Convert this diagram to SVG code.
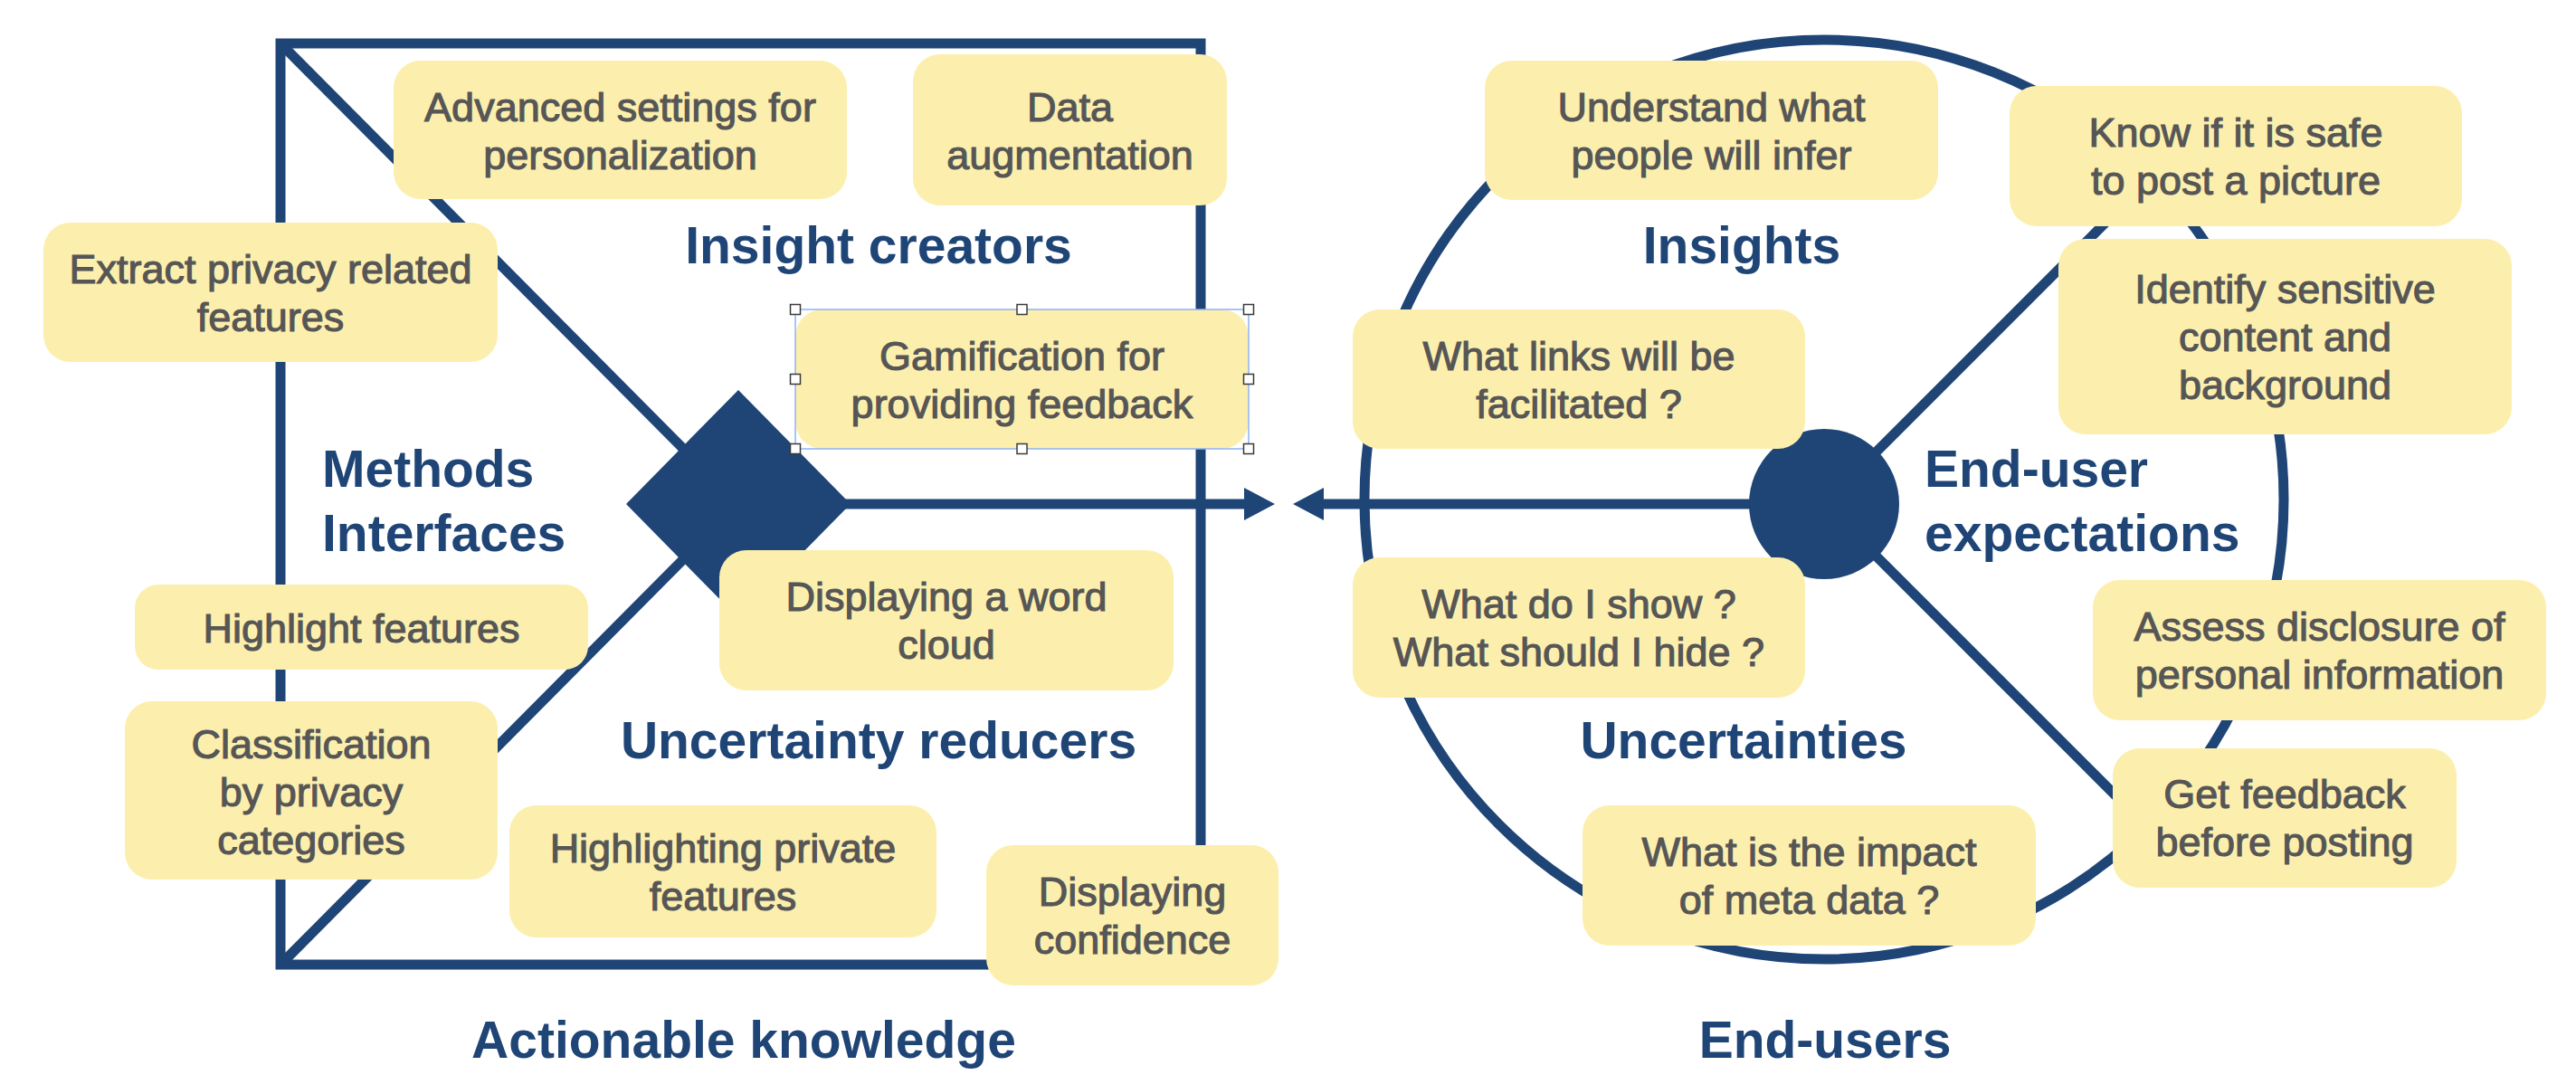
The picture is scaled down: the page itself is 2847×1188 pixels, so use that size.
<svg xmlns="http://www.w3.org/2000/svg" width="2847" height="1188" viewBox="0 0 2847 1188">
  <style>
    .frame { fill: none; stroke: #1F4577; stroke-width: 11; }
    .solid { fill: #1F4577; stroke: none; }
    .box { fill: #FCEFAD; }
    .txt { font-family: "Liberation Sans", Arial, Helvetica, sans-serif; font-size: 45px; fill: #565656; stroke: #565656; stroke-width: 1.1; text-anchor: middle; }
    .title { font-family: "Liberation Sans", Arial, Helvetica, sans-serif; font-size: 57px; font-weight: bold; fill: #1F4577; }
    .mid { text-anchor: middle; }
    .sel { fill: none; stroke: #8DB3F6; stroke-width: 1.5; }
    .handle { fill: #FFFFFF; stroke: #3A3A3A; stroke-width: 1.5; }
  </style>
  <defs>
    <marker id="head" markerUnits="userSpaceOnUse" markerWidth="36" markerHeight="38" refX="4" refY="19" orient="auto">
      <path d="M0,1 L34,19 L0,37 Z" fill="#1F4577"/>
    </marker>
  </defs>

  <rect width="2847" height="1188" fill="#FFFFFF"/>

  <!-- connectors: square frame, circle frame, diagonals and arrows -->
  <g id="connectors">
    <rect class="frame" x="310" y="48" width="1017" height="1018"/>
    <line class="frame" x1="314" y1="52" x2="816" y2="557"/>
    <line class="frame" x1="314" y1="1062" x2="816" y2="557"/>
    <line class="frame" x1="930" y1="557" x2="1379" y2="557" marker-end="url(#head)"/>

    <circle class="frame" cx="2016" cy="552" r="508"/>
    <line class="frame" x1="2016" y1="557" x2="2376" y2="197"/>
    <line class="frame" x1="2016" y1="557" x2="2376" y2="917"/>
    <line class="frame" x1="2016" y1="557" x2="1459" y2="557" marker-end="url(#head)"/>
  </g>

  <!-- hub shapes -->
  <g id="hub-knowledge">
    <polygon class="solid" points="816,431 940,557 816,683 692,557"/>
  </g>
  <g id="hub-users">
    <circle class="solid" cx="2016" cy="557" r="83"/>
  </g>

  <!-- left panel notes -->
  <g id="note-advanced-settings">
    <rect class="box" x="435" y="67" width="501" height="153" rx="30"/>
    <text class="txt" x="685.5"><tspan y="134">Advanced settings for</tspan><tspan x="685.5" y="187">personalization</tspan></text>
  </g>
  <g id="note-data-augmentation">
    <rect class="box" x="1009" y="60" width="347" height="167" rx="30"/>
    <text class="txt" x="1182.5"><tspan y="134">Data</tspan><tspan x="1182.5" y="187">augmentation</tspan></text>
  </g>
  <g id="note-extract-features">
    <rect class="box" x="48" y="246" width="502" height="154" rx="30"/>
    <text class="txt" x="299"><tspan y="313">Extract privacy related</tspan><tspan x="299" y="366">features</tspan></text>
  </g>
  <g id="note-gamification">
    <rect class="box" x="879" y="342" width="501" height="154" rx="30"/>
    <text class="txt" x="1129.5"><tspan y="409">Gamification for</tspan><tspan x="1129.5" y="462">providing feedback</tspan></text>
    <rect class="sel" x="879" y="342" width="501" height="154"/>
    <rect class="handle" x="873.5" y="336.5" width="11" height="11"/>
    <rect class="handle" x="1124" y="336.5" width="11" height="11"/>
    <rect class="handle" x="1374.5" y="336.5" width="11" height="11"/>
    <rect class="handle" x="873.5" y="413.5" width="11" height="11"/>
    <rect class="handle" x="1374.5" y="413.5" width="11" height="11"/>
    <rect class="handle" x="873.5" y="490.5" width="11" height="11"/>
    <rect class="handle" x="1124" y="490.5" width="11" height="11"/>
    <rect class="handle" x="1374.5" y="490.5" width="11" height="11"/>
  </g>
  <g id="note-highlight-features">
    <rect class="box" x="149" y="646" width="501" height="94" rx="26"/>
    <text class="txt" x="399.5" y="710">Highlight features</text>
  </g>
  <g id="note-word-cloud">
    <rect class="box" x="795" y="608" width="502" height="155" rx="30"/>
    <text class="txt" x="1046"><tspan y="675">Displaying a word</tspan><tspan x="1046" y="728">cloud</tspan></text>
  </g>
  <g id="note-classification">
    <rect class="box" x="138" y="775" width="412" height="197" rx="30"/>
    <text class="txt" x="344"><tspan y="838">Classification</tspan><tspan x="344" y="891">by privacy</tspan><tspan x="344" y="944">categories</tspan></text>
  </g>
  <g id="note-highlighting-private">
    <rect class="box" x="563" y="890" width="472" height="146" rx="30"/>
    <text class="txt" x="799"><tspan y="953">Highlighting private</tspan><tspan x="799" y="1006">features</tspan></text>
  </g>
  <g id="note-confidence">
    <rect class="box" x="1090" y="934" width="323" height="155" rx="30"/>
    <text class="txt" x="1251.5"><tspan y="1001">Displaying</tspan><tspan x="1251.5" y="1054">confidence</tspan></text>
  </g>

  <!-- right panel notes -->
  <g id="note-understand">
    <rect class="box" x="1641" y="67" width="501" height="154" rx="30"/>
    <text class="txt" x="1891.5"><tspan y="134">Understand what</tspan><tspan x="1891.5" y="187">people will infer</tspan></text>
  </g>
  <g id="note-safe-to-post">
    <rect class="box" x="2221" y="95" width="500" height="155" rx="30"/>
    <text class="txt" x="2471"><tspan y="162">Know if it is safe</tspan><tspan x="2471" y="215">to post a picture</tspan></text>
  </g>
  <g id="note-sensitive-content">
    <rect class="box" x="2275" y="264" width="501" height="216" rx="30"/>
    <text class="txt" x="2525.5"><tspan y="335">Identify sensitive</tspan><tspan x="2525.5" y="388">content and</tspan><tspan x="2525.5" y="441">background</tspan></text>
  </g>
  <g id="note-links">
    <rect class="box" x="1495" y="342" width="500" height="154" rx="30"/>
    <text class="txt" x="1745"><tspan y="409">What links will be</tspan><tspan x="1745" y="462">facilitated ?</tspan></text>
  </g>
  <g id="note-show-hide">
    <rect class="box" x="1495" y="616" width="500" height="155" rx="30"/>
    <text class="txt" x="1745"><tspan y="683">What do I show ?</tspan><tspan x="1745" y="736">What should I hide ?</tspan></text>
  </g>
  <g id="note-disclosure">
    <rect class="box" x="2313" y="641" width="501" height="155" rx="30"/>
    <text class="txt" x="2563.5"><tspan y="708">Assess disclosure of</tspan><tspan x="2563.5" y="761">personal information</tspan></text>
  </g>
  <g id="note-feedback">
    <rect class="box" x="2335" y="827" width="380" height="154" rx="30"/>
    <text class="txt" x="2525"><tspan y="893">Get feedback</tspan><tspan x="2525" y="946">before posting</tspan></text>
  </g>
  <g id="note-metadata">
    <rect class="box" x="1749" y="890" width="501" height="155" rx="30"/>
    <text class="txt" x="1999.5"><tspan y="957">What is the impact</tspan><tspan x="1999.5" y="1010">of meta data ?</tspan></text>
  </g>

  <!-- section titles -->
  <g id="titles">
    <text class="title mid" x="971" y="291">Insight creators</text>
    <text class="title" x="356"><tspan y="538">Methods</tspan><tspan x="356" y="609">Interfaces</tspan></text>
    <text class="title mid" x="971" y="838">Uncertainty reducers</text>
    <text class="title mid" x="822" y="1169">Actionable knowledge</text>
    <text class="title mid" x="1925" y="291">Insights</text>
    <text class="title" x="2127"><tspan y="538">End-user</tspan><tspan x="2127" y="609">expectations</tspan></text>
    <text class="title mid" x="1927" y="838">Uncertainties</text>
    <text class="title mid" x="2017" y="1169">End-users</text>
  </g>
</svg>
